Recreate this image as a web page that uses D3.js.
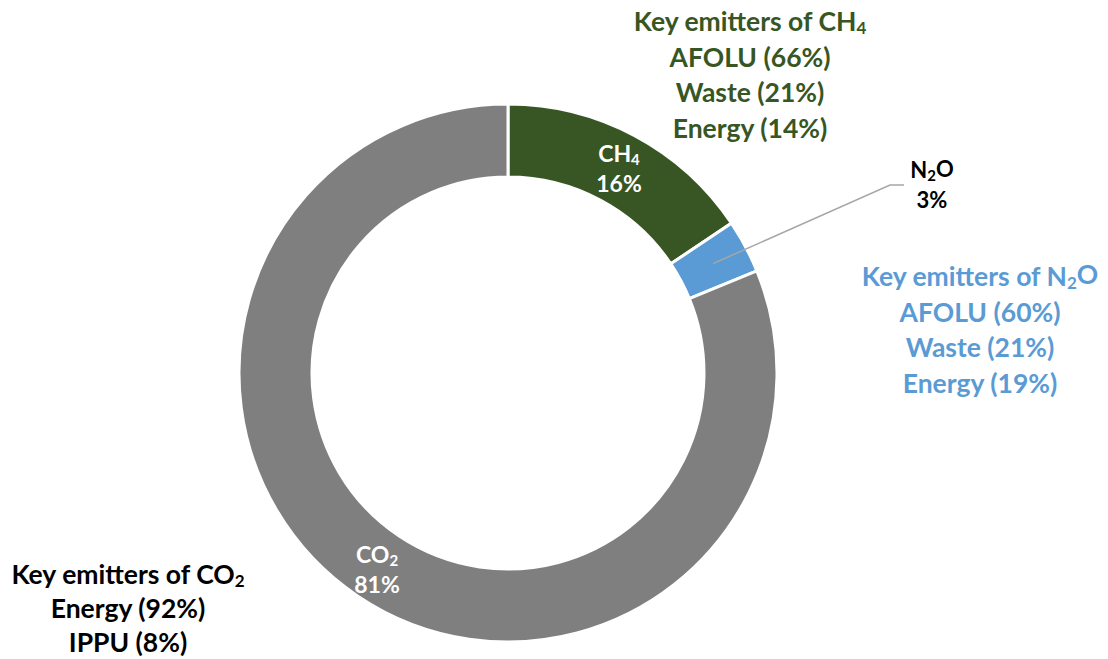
<!DOCTYPE html>
<html>
<head>
<meta charset="utf-8">
<script src="https://cdn.jsdelivr.net/npm/d3@7"></script>
<style>
  body { margin: 0; background: #fff; }
  svg text { font-family: Lato, "Open Sans", sans-serif; font-weight: 700; }
</style>
</head>
<body>
<div id="chart"></div>
<script>
// gases and their share of total emissions
const gases = ["CH4", "N2O", "CO2"];
const gasValues = [15.6, 3.2, 81.2];
const gasLabels = ["16%", "3%", "81%"];
const gasColors = ["#375623", "#5b9bd5", "#7f7f7f"];

// key emitters for each gas
const ch4Emitters = ["AFOLU (66%)", "Waste (21%)", "Energy (14%)"];
const n2oEmitters = ["AFOLU (60%)", "Waste (21%)", "Energy (19%)"];
const co2Emitters = ["Energy (92%)", "IPPU (8%)"];

const width = 1108, height = 659;
const cx = 508, cy = 373;
const outerR = 269, innerR = 196;

const svg = d3.select("#chart")
  .append("svg")
  .attr("width", width)
  .attr("height", height);

const g = svg.append("g")
  .attr("transform", `translate(${cx},${cy})`);

const pie = d3.pie().sort(null).value(d => d.value);
const arc = d3.arc().innerRadius(innerR).outerRadius(outerR);
const mid = d3.arc().innerRadius((innerR + outerR) / 2).outerRadius((innerR + outerR) / 2);

const data = gases.map((gas, i) => ({ gas, value: gasValues[i], label: gasLabels[i], color: gasColors[i] }));
const arcs = pie(data);

g.selectAll("path.slice")
  .data(arcs)
  .join("path")
  .attr("class", "slice")
  .attr("d", arc)
  .attr("fill", d => d.data.color)
  .attr("stroke", "#fff")
  .attr("stroke-width", 3);

// write a formula like CH4 with the digit as subscript
function formula(sel, name, subSize) {
  const m = name.match(/^([A-Z]+)(\d)(.*)$/);
  sel.append("tspan").text(m[1]);
  sel.append("tspan").attr("dy", "0.2em").attr("font-size", subSize).text(m[2]);
  if (m[3]) sel.append("tspan").attr("dy", "-0.2em").text(m[3]);
}

// labels inside the ring
const inside = { CH4: [619, 162], CO2: [377, 563] };
arcs.filter(d => inside[d.data.gas]).forEach(d => {
  const [x, y] = inside[d.data.gas];
  const t = svg.append("text")
    .attr("x", x).attr("y", y)
    .attr("text-anchor", "middle")
    .attr("fill", "#fff")
    .attr("font-size", 23);
  formula(t, d.data.gas, 15);
  svg.append("text")
    .attr("x", x).attr("y", y + 29.5)
    .attr("text-anchor", "middle")
    .attr("fill", "#fff")
    .attr("font-size", 23)
    .text(d.data.label);
});

// N2O label outside with leader line
const n2o = arcs[1];
const [px, py] = mid.centroid(n2o);
svg.append("polyline")
  .attr("points", `${cx + px},${cy + py} 890,185 904,185`)
  .attr("fill", "none")
  .attr("stroke", "#a6a6a6")
  .attr("stroke-width", 1.5);

const nt = svg.append("text")
  .attr("x", 932).attr("y", 178)
  .attr("text-anchor", "middle")
  .attr("font-family", "'Liberation Sans', Arial, sans-serif")
  .attr("font-size", 22)
  .attr("fill", "#000");
formula(nt, "N2O", 15);
svg.append("text")
  .attr("x", 932).attr("y", 208)
  .attr("text-anchor", "middle")
  .attr("font-family", "'Liberation Sans', Arial, sans-serif")
  .attr("font-size", 22)
  .attr("fill", "#000")
  .text(n2o.data.label);

// key emitter blocks
function emitterBlock(x, y, gas, lines, color, step) {
  const t = svg.append("text")
    .attr("x", x).attr("y", y)
    .attr("text-anchor", "middle")
    .attr("fill", color)
    .attr("font-size", 26.5);
  t.append("tspan").text("Key emitters of ");
  formula(t, gas, 17);
  lines.forEach((line, i) => {
    svg.append("text")
      .attr("x", x).attr("y", y + step * (i + 1))
      .attr("text-anchor", "middle")
      .attr("fill", color)
      .attr("font-size", 26.5)
      .text(line);
  });
}

emitterBlock(750, 31, "CH4", ch4Emitters, gasColors[0], 35.5);
emitterBlock(980, 286, "N2O", n2oEmitters, gasColors[1], 35.5);
emitterBlock(128, 584, "CO2", co2Emitters, "#000", 34);
</script>
</body>
</html>
